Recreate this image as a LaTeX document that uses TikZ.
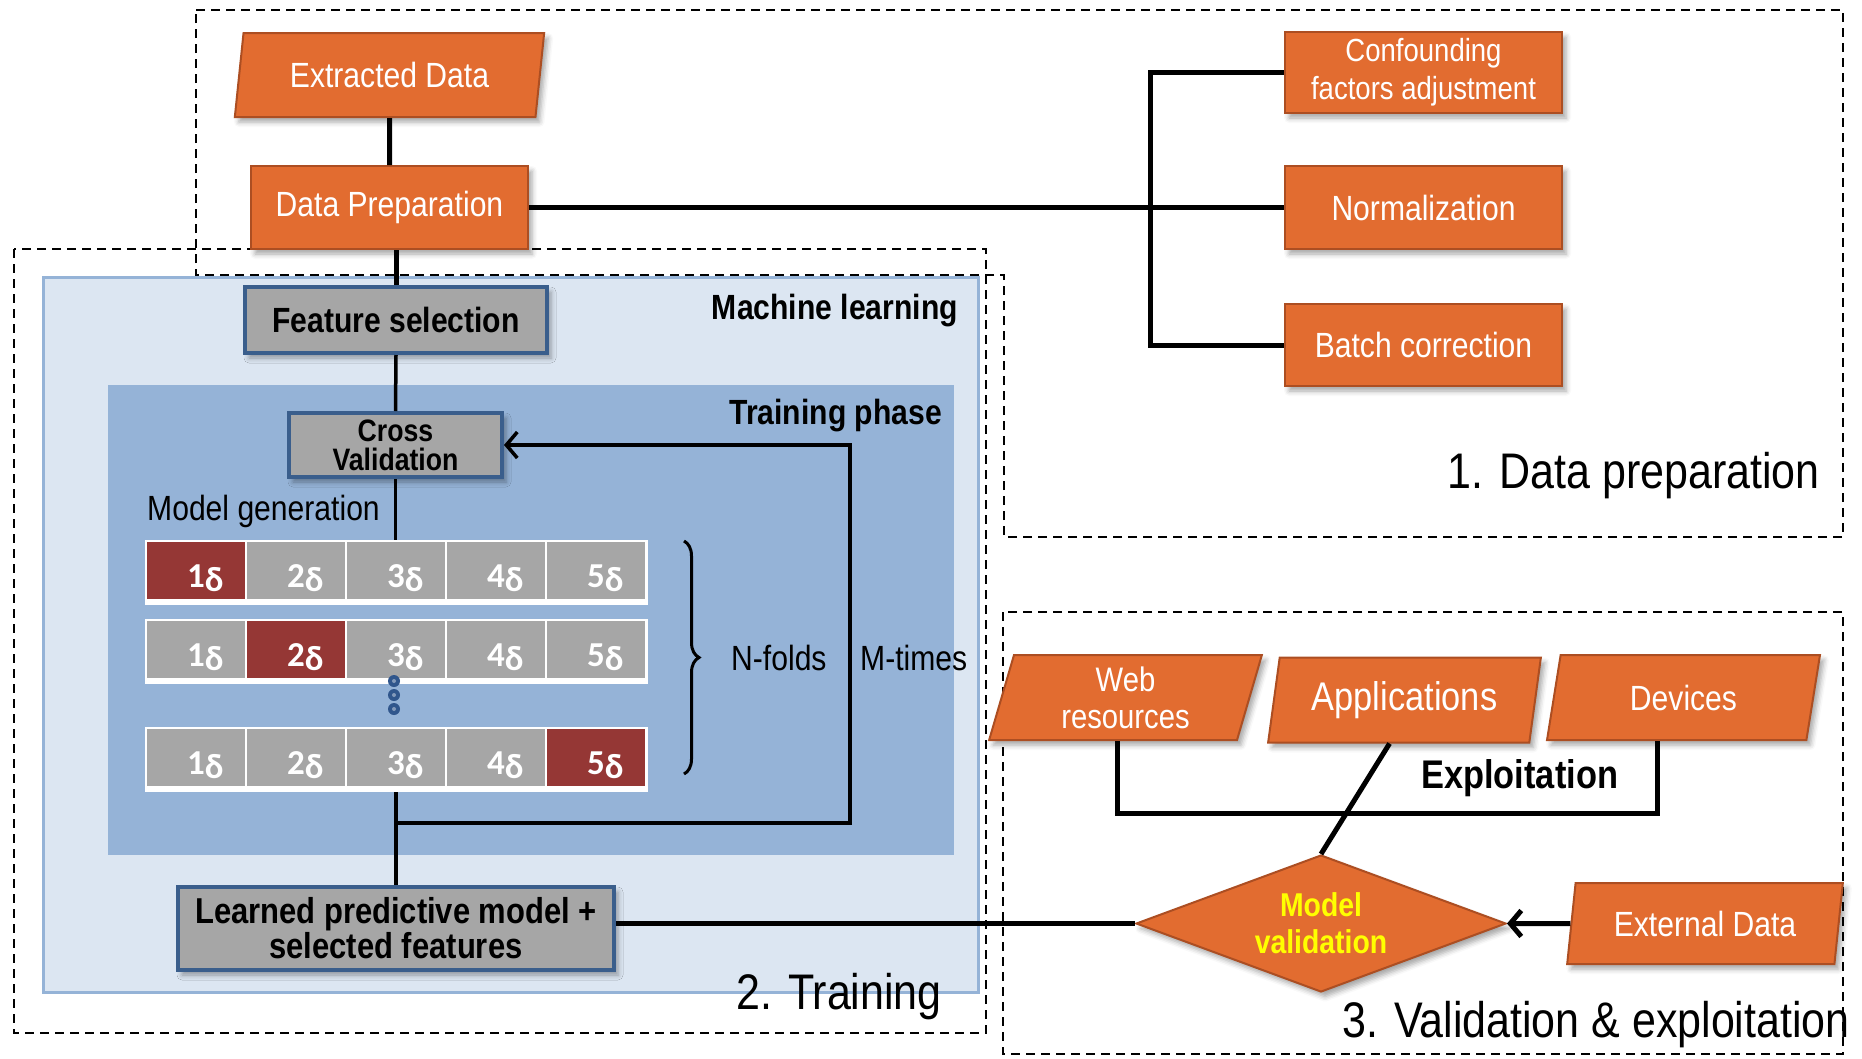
\documentclass[tikz,border=0pt]{standalone}
\usepackage{fontspec}
\setmainfont[FakeStretch=0.86]{Liberation Sans}
\newfontfamily\cellfont{Carlito}
\usetikzlibrary{shapes.geometric,arrows.meta,shadows.blur,decorations.pathreplacing}
\definecolor{orfill}{RGB}{226,108,48}
\definecolor{orline}{RGB}{172,78,34}
\definecolor{grayfill}{RGB}{166,166,166}
\definecolor{grayline}{RGB}{58,94,140}
\definecolor{mlfill}{RGB}{220,230,242}
\definecolor{mlline}{RGB}{149,179,215}
\definecolor{tpfill}{RGB}{149,179,215}
\definecolor{cellred}{RGB}{149,55,53}
\definecolor{dotblue}{RGB}{48,86,140}
\definecolor{mvyellow}{RGB}{255,255,0}
\newcommand{\fsz}[2]{\fontsize{#1}{#2}\selectfont}
\begin{document}
\begin{tikzpicture}[x=1pt,y=-1pt,
  shad/.style={blur shadow={shadow xshift=4pt, shadow yshift=-5pt, shadow blur radius=5pt, shadow opacity=35}},
  orbox/.style={rectangle, fill=orfill, draw=orline, line width=2pt, text=white, font=\fsz{35}{38}, align=center, inner sep=0pt, shad},
  para/.style={orbox, trapezium, trapezium left angle=77, trapezium right angle=103, trapezium stretches=true},
  graybox/.style={rectangle, fill=grayfill, draw=grayline, line width=4pt, align=center, inner sep=0pt, shad},
  mvd/.style={diamond, fill=orfill, draw=orline, line width=2pt, aspect=2.7, inner sep=0pt, minimum width=370pt, minimum height=137pt, text=mvyellow, align=center, font=\bfseries\fsz{33}{37}, shad},
  dashbox/.style={draw=black, line width=2pt, dash pattern=on 9pt off 6pt},
  conn/.style={draw=black, line width=5pt},
  inconn/.style={draw=black, line width=3.5pt},
  arr/.style={-{Straight Barb[length=11pt,width=26pt]}},
  rowbg/.style={rectangle, fill=white, minimum width=503pt, minimum height=65pt, inner sep=0pt},
  cell/.style={rectangle, minimum width=98pt, minimum height=57pt, inner sep=0pt, text height=45pt, text depth=12pt, text=white, font=\cellfont\bfseries\fsz{35}{36}},
  lbl/.style={font=\fsz{35}{38}, inner sep=0pt},
  biglbl/.style={font=\fsz{50}{52}, inner sep=0pt, anchor=east}
]
\useasboundingbox (0,0) rectangle (1862,1058);

% dashed regions
\draw[dashbox] (196,10) -- (1843,10) -- (1843,537) -- (1004,537) -- (1004,275) -- (196,275) -- cycle;
\draw[dashbox] (14,249) rectangle (986,1033);
\draw[dashbox] (1003,612) rectangle (1843,1054);

% machine learning panels
\filldraw[fill=mlfill, draw=mlline, line width=3pt] (43,277) rectangle (978,992);
\fill[tpfill] (108,385) rectangle (954,855);
\node[anchor=east, font=\bfseries\fsz{35}{38}, inner sep=0pt] (mltxt) at (958,311) {Machine learning};
\node[anchor=east, font=\bfseries\fsz{35}{38}, inner sep=0pt] (tptxt) at (942,416) {Training phase};

% data preparation
\node[para, minimum width=310pt, minimum height=84pt] (ext) at (389.5,75) {Extracted Data};
\node[orbox, minimum width=277pt, minimum height=83pt] (dp) at (389.5,207.5) {Data Preparation};
\node[orbox, minimum width=277pt, minimum height=81pt, font=\fsz{32}{38}] (conf) at (1423.5,72.5) {Confounding\\factors adjustment};
\node[orbox, minimum width=277pt, minimum height=83pt] (norm) at (1423.5,207.5) {Normalization};
\node[orbox, minimum width=277pt, minimum height=82pt] (batch) at (1423.5,345) {Batch correction};
\coordinate (brk) at (1150,207.5);
\draw[conn] (ext.south) -- (dp.north);
\draw[conn] (dp.east) -- (norm.west);
\draw[conn] (conf.west) -| (brk) |- (batch.west);

% training
\node[graybox, minimum width=302pt, minimum height=66pt, font=\bfseries\fsz{35}{38}] (feat) at (396,320) {Feature selection};
\node[graybox, minimum width=213pt, minimum height=64pt, font=\bfseries\fsz{31}{29}] (cv) at (395.5,445) {Cross\\Validation};
\draw[conn] (dp.south -| feat.north) -- (feat.north);
\draw[inconn] (feat.south) -- (cv.north);
\node[lbl, anchor=west] (mg) at (147,511) {Model generation};

\foreach \r/\ty/\red in {1/540/1,2/619/2,3/727/5}{
  \node[rowbg, anchor=north west] (row\r) at (145,\ty) {};
  \foreach \k in {1,...,5}{
    \ifnum\k=\red\relax\def\cc{cellred}\else\def\cc{grayfill}\fi
    \node[cell, fill=\cc, anchor=north west] (c\r\k) at ({147+100*(\k-1)},{\ty+2}) {\hspace*{18pt}\k\raisebox{-4pt}{δ}};
  }
}
\foreach \yy in {681,695,709}{
  \fill[dotblue] (394,\yy) circle (6pt);
  \fill[dotblue!60!white] (394,\yy) circle (2pt);
}
\draw[inconn] (cv.south) -- (row1.north -| cv.south);
\draw[line width=3pt, decorate, decoration={brace, amplitude=15pt}] (684,541) -- (684,774);
\node[lbl, anchor=west] (nf) at (731,658) {N-folds};
\node[lbl, anchor=west] (mt) at (860,658) {M-times};

\node[graybox, minimum width=436pt, minimum height=83pt, font=\bfseries\fsz{36}{35}] (learn) at (396,928.5) {Learned predictive model +\\selected features};
\coordinate (lpbr) at (850,823);
\draw[inconn] (row3.south -| learn.north) -- (learn.north);
\draw[inconn, arr] (lpbr -| learn.north) -- (lpbr) |- (cv.east);

% validation & exploitation
\node[mvd] (mv) at (1321,923.5) {Model\\validation};
\node[para, minimum width=276pt, minimum height=81pt] (extd) at (1705,923.5) {External Data};
\draw[conn] (learn.east |- mv.west) -- (mv.west);
\draw[conn, arr] (extd.west) -- (mv.east);

\node[para, minimum width=273pt, minimum height=85pt, font=\fsz{34}{37}] (web) at (1125.5,697.5) {Web\\resources};
\node[para, minimum width=273pt, minimum height=85pt, font=\fsz{40}{42}] (app) at (1404.5,700) {Applications};
\node[para, minimum width=273pt, minimum height=85pt] (dev) at (1683.5,697.5) {Devices};
\coordinate (exl) at (1117,813);
\coordinate (exr) at (1657,813);
\draw[conn] (web.south -| exl) -- (exl) -- (exr) -- (dev.south -| exr);
\draw[conn] ([xshift=-15pt]app.south) -- (mv.north);
\node[anchor=west, font=\bfseries\fsz{40}{42}, inner sep=0pt] (expl) at (1421,778) {Exploitation};

% region labels
\node[biglbl] (l1) at (1820,476) {1. Data preparation};
\node[biglbl] (l2) at (942,997) {2. Training};
\node[biglbl] (l3) at (1850,1025) {3. Validation \& exploitation};
\end{tikzpicture}
\end{document}
